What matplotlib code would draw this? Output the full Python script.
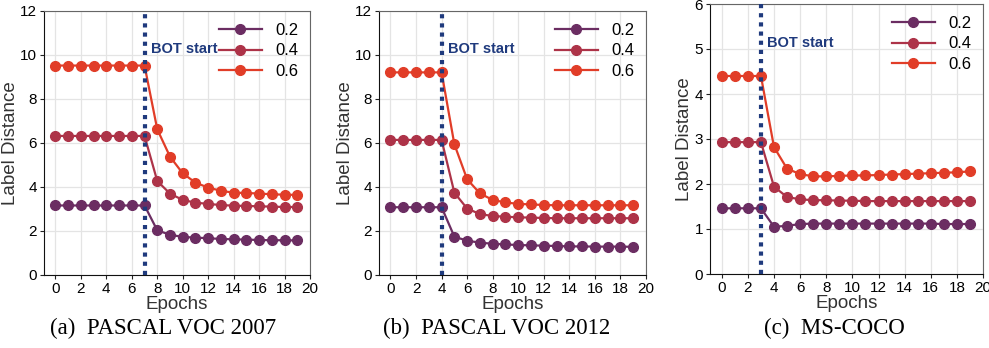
import matplotlib
matplotlib.use("Agg")
import matplotlib.pyplot as plt

plt.rcParams['font.family'] = ['Liberation Sans', 'DejaVu Sans']

epochs = list(range(20))
labels = ['0.2', '0.4', '0.6']
colors = ['#6b2d62', '#ad3348', '#e13d28']

# PASCAL VOC 2007, BOT starts at epoch 7
voc07_02 = [3.16] * 8 + [2.03, 1.83, 1.73, 1.70, 1.67, 1.64, 1.62, 1.61, 1.59, 1.58, 1.58, 1.57]
voc07_04 = [6.32] * 8 + [4.27, 3.70, 3.41, 3.29, 3.23, 3.18, 3.15, 3.14, 3.12, 3.11, 3.09, 3.09]
voc07_06 = [9.52] * 8 + [6.62, 5.38, 4.62, 4.20, 3.97, 3.83, 3.74, 3.73, 3.70, 3.67, 3.65, 3.64]

# PASCAL VOC 2012, BOT starts at epoch 4
voc12_02 = [3.08] * 5 + [1.74, 1.56, 1.47, 1.42, 1.39, 1.36, 1.35, 1.33, 1.32, 1.30, 1.30, 1.29, 1.29, 1.29, 1.28]
voc12_04 = [6.14] * 5 + [3.74, 3.02, 2.77, 2.68, 2.65, 2.62, 2.61, 2.59, 2.58, 2.58, 2.58, 2.58, 2.58, 2.58, 2.58]
voc12_06 = [9.21] * 5 + [5.94, 4.35, 3.71, 3.41, 3.30, 3.23, 3.21, 3.18, 3.17, 3.17, 3.17, 3.17, 3.17, 3.17, 3.17]

# MS-COCO, BOT starts at epoch 3
coco_02 = [1.46] * 4 + [1.05, 1.07, 1.11, 1.12, 1.12, 1.12, 1.12, 1.12, 1.12, 1.12, 1.12, 1.12, 1.12, 1.11, 1.11, 1.11]
coco_04 = [2.93] * 4 + [1.94, 1.71, 1.66, 1.64, 1.64, 1.63, 1.63, 1.62, 1.62, 1.62, 1.62, 1.62, 1.62, 1.62, 1.62, 1.62]
coco_06 = [4.40] * 4 + [2.82, 2.34, 2.22, 2.17, 2.17, 2.18, 2.19, 2.19, 2.20, 2.21, 2.22, 2.23, 2.24, 2.25, 2.26, 2.28]

panels = [
    ([voc07_02, voc07_04, voc07_06], 7, 12, [0, 2, 4, 6, 8, 10, 12], '(a)  PASCAL VOC 2007'),
    ([voc12_02, voc12_04, voc12_06], 4, 12, [0, 2, 4, 6, 8, 10, 12], '(b)  PASCAL VOC 2012'),
    ([coco_02, coco_04, coco_06], 3, 6, [0, 1, 2, 3, 4, 5, 6], '(c)  MS-COCO'),
]

fig = plt.figure(figsize=(9.89, 3.48), dpi=100)
W, H = 989, 348
boxes = [(44, 11, 310, 275), (379, 11, 646, 275), (710, 4, 983, 274)]
caption_x = [163, 497, 834]

for (series, bot, ymax, yt, cap), (l, t, r, b), cx in zip(panels, boxes, caption_x):
    ax = fig.add_axes([l / W, 1 - b / H, (r - l) / W, (b - t) / H])
    for s, lab, c in zip(series, labels, colors):
        ax.plot(epochs, s, '-o', color=c, label=lab, lw=1.6, ms=7, zorder=3)
    ax.axvline(bot, color='#1f3a7d', ls=(0, (1, 1.2)), lw=3, zorder=4)
    ax.text(bot + 0.5, ymax * 0.855, 'BOT start', color='#1f3a7d', fontsize=10.5,
            fontweight='bold', va='center')
    ax.set_xlim(-0.9, 20)
    ax.set_ylim(0, ymax)
    ax.set_xticks(range(0, 21, 2))
    ax.set_yticks(yt)
    ax.grid(True, color='#e4e4e4', lw=0.9)
    ax.set_axisbelow(True)
    ax.tick_params(labelsize=11, length=3, pad=2, color='#222222')
    for sp in ['top', 'right']:
        ax.spines[sp].set_color('#666666')
    for sp in ['left', 'bottom']:
        ax.spines[sp].set_color('#111111')
    ax.set_xlabel('Epochs', fontsize=13.5, color='#333333', labelpad=0)
    ax.set_ylabel('Label Distance', fontsize=13.5, color='#333333', labelpad=1)
    ax.legend(loc='upper right', frameon=False, fontsize=12, handlelength=2.6,
              borderaxespad=0.3, labelspacing=0.35)
    fig.text(cx / W, 1 - 328 / H, cap, family='Liberation Serif', fontsize=16.5,
             ha='center', va='center')

plt.savefig('out.png', dpi=100)
